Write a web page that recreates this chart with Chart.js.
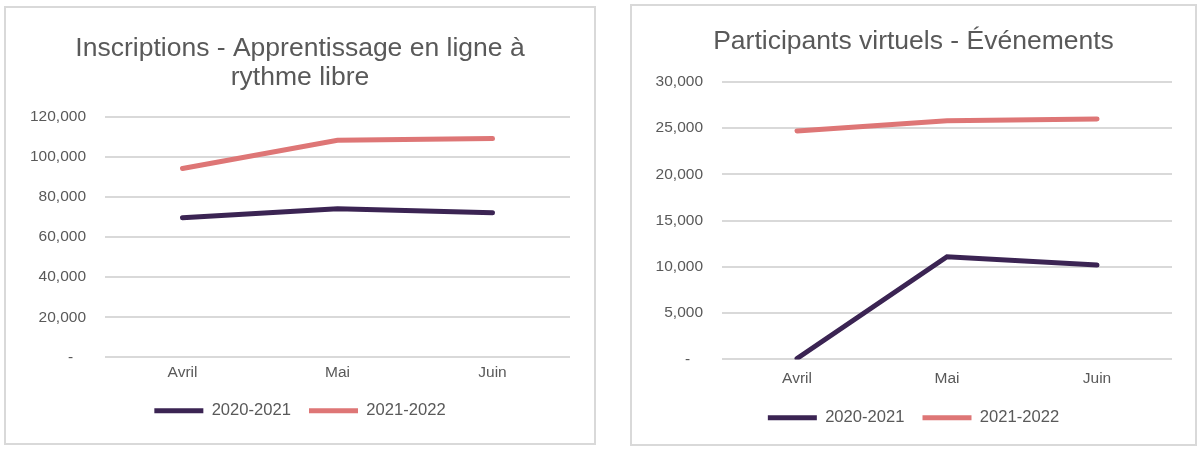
<!DOCTYPE html>
<html>
<head>
<meta charset="utf-8">
<script src="https://cdn.jsdelivr.net/npm/chart.js@4"></script>
<style>
  body { margin: 0; background: #fff; }
  .panel { position: absolute; border: 2px solid #d9d9d9; background: #fff; }
  #p1 { left: 4px; top: 6px; width: 588px; height: 435px; }
  #p2 { left: 630px; top: 4px; width: 563px; height: 438px; }
</style>
</head>
<body>
<div class="panel" id="p1"><canvas id="inscrChart" width="588" height="435"></canvas></div>
<div class="panel" id="p2"><canvas id="virtChart" width="563" height="438"></canvas></div>
<script>
const months = ['Avril', 'Mai', 'Juin'];
const seriesNames = ['2020-2021', '2021-2022'];
// Inscriptions - apprentissage en ligne
const inscr2020 = [69600, 74100, 72100];
const inscr2021 = [94200, 108300, 109200];
// Participants virtuels - événements
const virt2020 = [100, 11100, 10200];
const virt2021 = [24700, 25800, 26000];

const purple = '#3b2453';
const pink = '#de7676';
const grey = '#595959';
const fontFam = "'Liberation Sans', Arial, sans-serif";

Chart.defaults.font.family = fontFam;
Chart.defaults.color = grey;

function makeConfig(title, a, b, yMax, step, yWidth, titlePad, bottomPad, sidePad, xHeight, xPad) {
  return {
    type: 'line',
    data: {
      labels: months,
      datasets: [
        { label: seriesNames[0], data: a, borderColor: purple, backgroundColor: purple,
          borderWidth: 5, borderCapStyle: 'round', pointRadius: 0, tension: 0 },
        { label: seriesNames[1], data: b, borderColor: pink, backgroundColor: pink,
          borderWidth: 5, borderCapStyle: 'round', pointRadius: 0, tension: 0 }
      ]
    },
    options: {
      responsive: false,
      animation: false,
      layout: { padding: { left: sidePad, right: sidePad, top: 0, bottom: bottomPad } },
      plugins: {
        title: {
          display: true, text: title, color: grey,
          font: { size: 26.5, weight: 'normal', lineHeight: 1.09 },
          padding: titlePad
        },
        legend: {
          position: 'bottom',
          labels: {
            usePointStyle: true, pointStyle: 'line', pointStyleWidth: 49,
            color: grey, font: { size: 16.6 }, padding: 18
          }
        },
        tooltip: { enabled: false }
      },
      scales: {
        x: {
          offset: true,
          grid: { display: false, drawTicks: false },
          border: { display: false },
          ticks: { color: grey, font: { size: 15.5 }, padding: xPad },
          afterFit: function (s) { s.height = xHeight; }
        },
        y: {
          min: 0, max: yMax,
          grid: { color: '#d9d9d9', lineWidth: 2, drawTicks: false },
          border: { display: false },
          ticks: {
            stepSize: step, color: grey, font: { size: 15.5 }, padding: 19,
            callback: function (v) { return v === 0 ? '-   ' : v.toLocaleString('en-US'); }
          },
          afterFit: function (s) { s.width = yWidth; }
        }
      }
    }
  };
}

new Chart(document.getElementById('inscrChart'),
  makeConfig(['Inscriptions - Apprentissage en ligne à', 'rythme libre'],
    inscr2020, inscr2021, 120000, 20000, 75, { top: 26, bottom: 25 }, 14, 24, 27, 6));

new Chart(document.getElementById('virtChart'),
  makeConfig('Participants virtuels - Événements',
    virt2020, virt2021, 30000, 5000, 67, { top: 21, bottom: 26 }, 8, 23, 32, 10));
</script>
</body>
</html>
